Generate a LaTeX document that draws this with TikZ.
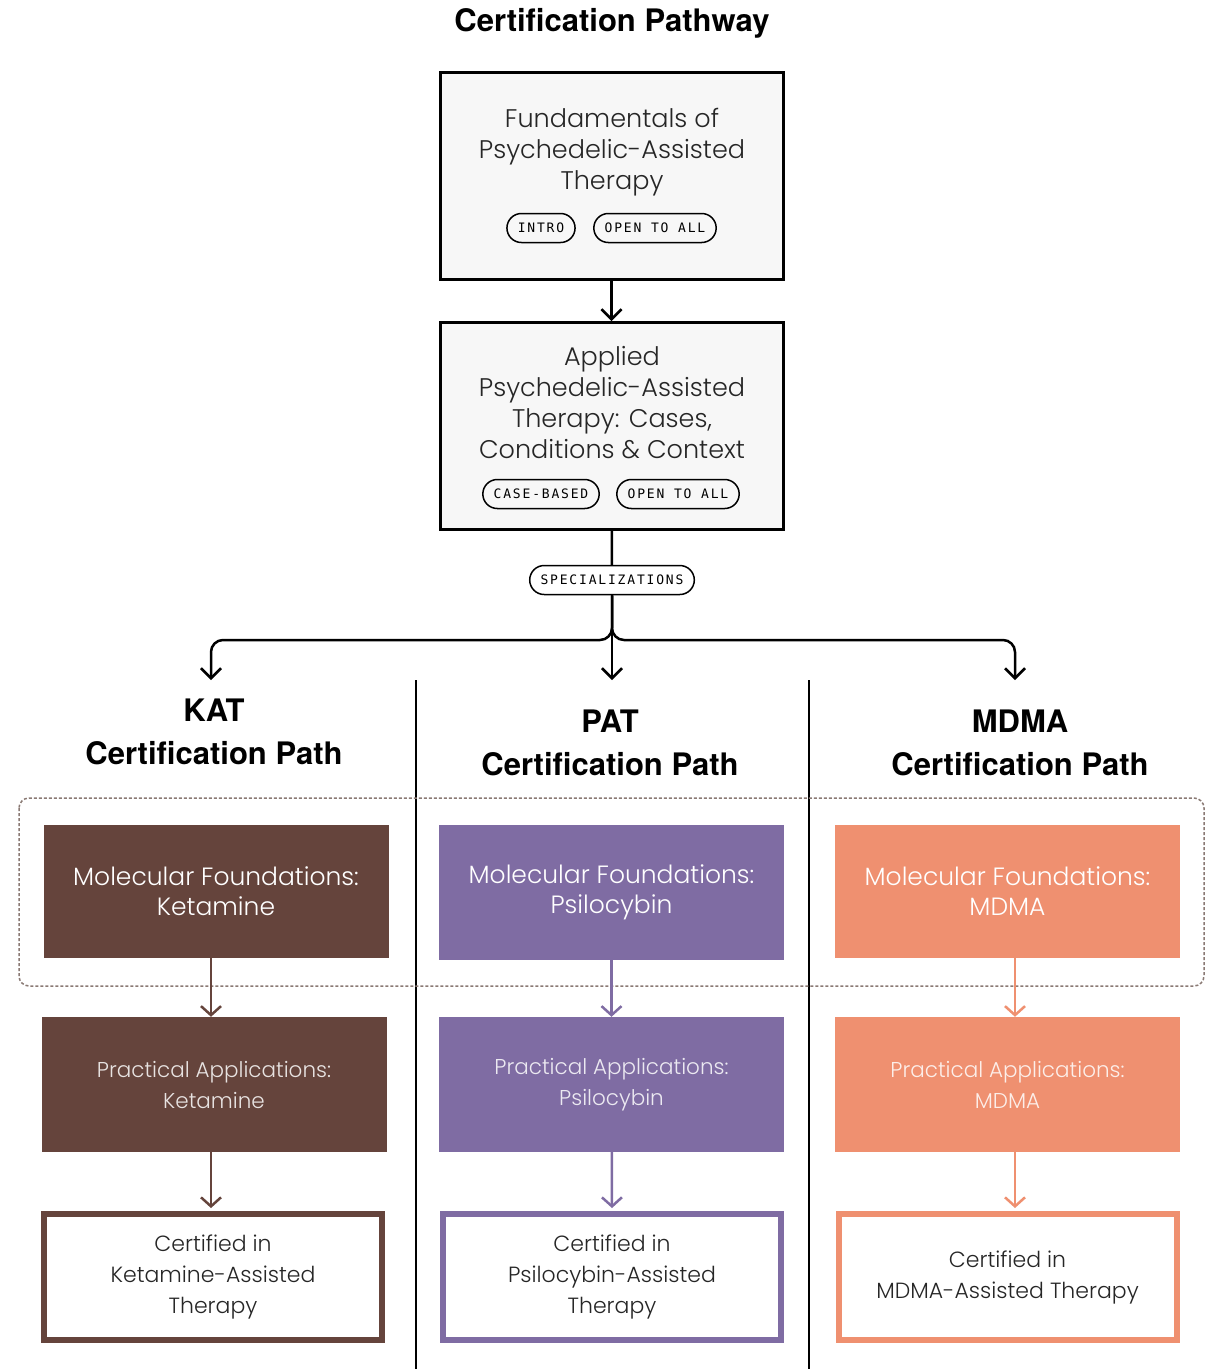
\documentclass[tikz,border=0pt]{standalone}
\usepackage{fontspec}
\setmainfont{Poppins Light}
\newfontfamily\headfont{TeX Gyre Heros}
\newfontfamily\pillfont{DejaVu Sans Mono}[LetterSpace=14]
\usetikzlibrary{arrows.meta,shapes.misc}
\definecolor{ketbrown}{HTML}{65443C}
\definecolor{psipurple}{HTML}{7F6CA3}
\definecolor{mdmaorange}{HTML}{EF9070}
\definecolor{boxgray}{HTML}{F7F7F7}
\definecolor{dotgray}{HTML}{8A7A74}
\tikzset{%
    stage/.style={draw=black,line width=3pt,fill=boxgray,minimum width=343pt,minimum height=207pt,inner sep=0pt},
    body/.style={align=center,font=\fontsize{25.5}{31}\selectfont,text=black!85},
    pill/.style={draw=black,line width=1.5pt,rounded rectangle,minimum height=29pt,inner ysep=0pt,inner xsep=10pt,font=\pillfont\fontsize{13}{13}\selectfont},
    head/.style={align=center,font=\headfont\bfseries\fontsize{31}{43}\selectfont},
    solidbox/.style={fill=#1,minimum width=345pt,minimum height=133pt,align=center,inner sep=0pt,text=white,font=\fontsize{25}{30}\selectfont},
    practbox/.style={solidbox=#1,minimum height=135pt,text opacity=.85,font=\fontsize{21.5}{31}\selectfont},
    certbox/.style={draw=#1,line width=6pt,fill=white,minimum width=338pt,minimum height=126pt,align=center,inner sep=0pt,text=black!85,font=\fontsize{22}{31}\selectfont},
    arr/.style={line width=2.5pt,-{Straight Barb[length=10pt,width=20pt]}},
    carr/.style={draw=#1,line width=2.5pt,-{Straight Barb[length=9pt,width=20pt]}}
}

\begin{document}
\begin{tikzpicture}[x=1pt,y=-1pt]
    \useasboundingbox (0,0) rectangle (1206,1369);

    \node[head] (title) at (612,23){Certification Pathway};

    % common courses
    \node[stage] (fund) at (611.5,175.5){};
    \node[body] (fundtxt) at (612,152){Fundamentals of\\Psychedelic-Assisted\\Therapy};
    \node[pill] (intro) at (541,228){INTRO};
    \node[pill] (openA) at (655,228){OPEN TO ALL};

    \node[stage] (applied) at (611.5,426){};
    \node[body] (appliedtxt) at (612,402.5){Applied\\Psychedelic-Assisted\\Therapy: Cases,\\Conditions \& Context};
    \node[pill] (cases) at (541,494){CASE-BASED};
    \node[pill] (openB) at (678,494){OPEN TO ALL};

    \node[pill] (spec) at (612,580){SPECIALIZATIONS};

    \draw[arr] (fund) -- (applied);
    \draw[line width=2.5pt] (applied) -- (spec);

    \coordinate (split) at (612,640);
    \coordinate (katend) at (211,680);
    \coordinate (patend) at (612,680);
    \coordinate (mdmaend) at (1015,680);
    \draw[arr,rounded corners=12pt] (spec.south) -- (split) -| (katend);
    \draw[arr,rounded corners=12pt] (spec.south) -- (split) -| (mdmaend);
    \draw[arr] (spec.south) -- (patend);

    % column separators
    \coordinate (sepAtop) at (416,680);
    \coordinate (sepAbot) at (416,1369);
    \coordinate (sepBtop) at (809,680);
    \coordinate (sepBbot) at (809,1369);
    \draw[line width=1.5pt] (sepAtop) -- (sepAbot);
    \draw[line width=1.5pt] (sepBtop) -- (sepBbot);

    \node[head] (kathead) at (214,732){KAT\\Certification Path};
    \node[head] (pathead) at (610,743){PAT\\Certification Path};
    \node[head] (mdmahead) at (1020,743){MDMA\\Certification Path};

    % molecular foundations group
    \draw[dotgray,line width=1.5pt,dash pattern=on 3pt off 2pt,rounded corners=10pt] (19,798) rectangle (1204,986);

    \node[solidbox=ketbrown] (mfK) at (216,891){Molecular Foundations:\\Ketamine};
    \node[practbox=ketbrown] (paK) at (214,1084.5){Practical Applications:\\Ketamine};
    \node[certbox=ketbrown] (certK) at (213,1277){Certified in\\Ketamine-Assisted\\Therapy};

    \node[solidbox=psipurple,minimum height=135pt] (mfP) at (611.5,892.5){Molecular Foundations:\\Psilocybin};
    \node[practbox=psipurple] (paP) at (611.5,1084.5){Practical Applications:\\Psilocybin};
    \node[certbox=psipurple] (certP) at (612,1277){Certified in\\Psilocybin-Assisted\\Therapy};

    \node[solidbox=mdmaorange] (mfM) at (1007.5,891){Molecular Foundations:\\MDMA};
    \node[practbox=mdmaorange] (paM) at (1007.5,1084.5){Practical Applications:\\MDMA};
    \node[certbox=mdmaorange] (certM) at (1007.5,1277){Certified in\\MDMA-Assisted Therapy};

    \draw[carr=ketbrown] ([xshift=-5pt]mfK.south) -- ([xshift=-3pt]paK.north);
    \draw[carr=ketbrown] ([xshift=-3pt]paK.south) -- ([xshift=-2pt,yshift=3pt]certK.north);
    \draw[carr=psipurple] (mfP) -- (paP);
    \draw[carr=psipurple] (paP) -- ([yshift=3pt]certP.north);
    \draw[carr=mdmaorange] ([xshift=7.5pt]mfM.south) -- ([xshift=7.5pt]paM.north);
    \draw[carr=mdmaorange] ([xshift=7.5pt]paM.south) -- ([xshift=7.5pt,yshift=3pt]certM.north);
\end{tikzpicture}
\end{document}
